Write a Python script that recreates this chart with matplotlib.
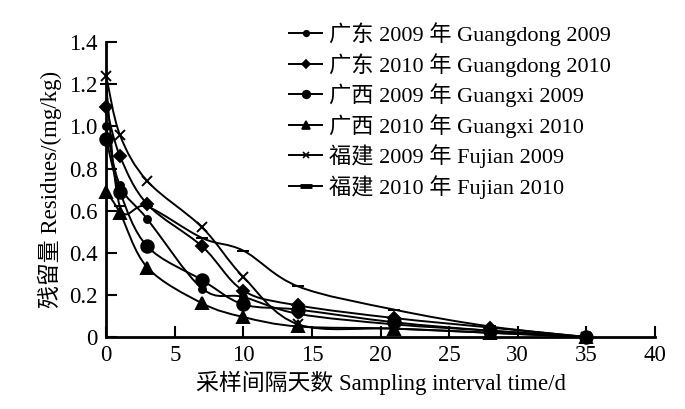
import matplotlib.pyplot as plt
from matplotlib.lines import Line2D
from matplotlib.patches import PathPatch
from matplotlib.path import Path


DAYS = [0, 1, 3, 7, 10, 14, 21, 28, 35]

GUANGDONG_2009 = [1.00, 0.72, 0.56, 0.23, 0.19, 0.11, 0.06, 0.03, 0.0]
GUANGDONG_2010 = [1.09, 0.86, 0.63, 0.43, 0.22, 0.15, 0.09, 0.045, 0.0]
GUANGXI_2009 = [0.94, 0.69, 0.43, 0.27, 0.155, 0.13, 0.07, 0.03, 0.0]
GUANGXI_2010 = [0.69, 0.59, 0.33, 0.16, 0.095, 0.05, 0.04, 0.02, 0.0]
FUJIAN_2009 = [1.24, 0.96, 0.74, 0.52, 0.285, 0.06, 0.04, 0.02, 0.0]
FUJIAN_2010 = [1.20, 0.62, 0.62, 0.47, 0.41, 0.24, 0.13, 0.05, 0.0]

LABELS = [
    "广东 2009 年 Guangdong 2009",
    "广东 2010 年 Guangdong 2010",
    "广西 2009 年 Guangxi 2009",
    "广西 2010 年 Guangxi 2010",
    "福建 2009 年 Fujian 2009",
    "福建 2010 年 Fujian 2010",
]

X_TICKS = [0, 5, 10, 15, 20, 25, 30, 35, 40]
Y_TICKS = [0, 0.2, 0.4, 0.6, 0.8, 1.0, 1.2, 1.4]
Y_TICK_LABELS = ["0", "0.2", "0.4", "0.6", "0.8", "1.0", "1.2", "1.4"]

FONT = ["Liberation Serif", "Noto Sans CJK SC"]
FONT_SIZE = 16.5


def smooth_path(xs, ys):
    # Excel-style smoothed line: Bezier segments through every data point
    pts = list(zip(xs, ys))
    verts = [pts[0]]
    codes = [Path.MOVETO]
    for i in range(len(pts) - 1):
        p0 = pts[max(i - 1, 0)]
        p1 = pts[i]
        p2 = pts[i + 1]
        p3 = pts[min(i + 2, len(pts) - 1)]
        c1 = (p1[0] + (p2[0] - p0[0]) / 6, p1[1] + (p2[1] - p0[1]) / 6)
        c2 = (p2[0] - (p3[0] - p1[0]) / 6, p2[1] - (p3[1] - p1[1]) / 6)
        verts += [c1, c2, p2]
        codes += [Path.CURVE4] * 3
    return Path(verts, codes)


def main():
    plt.rcParams["font.family"] = FONT

    fig = plt.figure(figsize=(6.85, 4.09), dpi=100)
    ax = fig.add_axes([0.155, 0.176, 0.801, 0.721])

    series = [GUANGDONG_2009, GUANGDONG_2010, GUANGXI_2009,
              GUANGXI_2010, FUJIAN_2009, FUJIAN_2010]
    markers = [("o", 5), ("D", 6.5), ("o", 9), ("^", 8), ("x", 7), ("_", 9)]
    legend_markers = [("o", 4, 1.2), ("D", 4.5, 1.2), ("o", 5.5, 1.2),
                      ("^", 6, 1.2), ("x", 5, 1.2), ("_", 8, 3.5)]

    handles = []
    for values, (marker, size), (lm, ls, lw), label in zip(
            series, markers, legend_markers, LABELS):
        ax.add_patch(PathPatch(smooth_path(DAYS, values), fill=False,
                               edgecolor="black", linewidth=1.4))
        ax.plot(DAYS, values, linestyle="none", marker=marker, markersize=size,
                color="black", markeredgewidth=1.4, clip_on=False)
        handles.append(Line2D([], [], color="black", linewidth=1.4,
                              marker=lm, markersize=ls,
                              markeredgewidth=lw, label=label))

    ax.set_xlim(0, 40)
    ax.set_ylim(0, 1.4)
    ax.set_xticks(X_TICKS)
    ax.set_yticks(Y_TICKS)
    ax.set_yticklabels(Y_TICK_LABELS)
    ax.tick_params(direction="in", length=8, width=1.5,
                   labelsize=FONT_SIZE, pad=6)

    for side in ["top", "right"]:
        ax.spines[side].set_visible(False)
    for side in ["left", "bottom"]:
        ax.spines[side].set_linewidth(2)

    ax.set_xlabel("采样间隔天数 Sampling interval time/d",
                  fontsize=FONT_SIZE, labelpad=3)
    ax.set_ylabel("残留量 Residues/(mg/kg)", fontsize=FONT_SIZE, labelpad=5)

    ax.legend(handles=handles, loc="upper left", bbox_to_anchor=(0.422, 0.945),
              bbox_transform=fig.transFigure, frameon=False, fontsize=16,
              handlelength=1.5, handletextpad=0.3, labelspacing=0.3,
              borderaxespad=0, borderpad=0)

    fig.savefig("out.png", dpi=100)
    plt.close(fig)


if __name__ == "__main__":
    main()
